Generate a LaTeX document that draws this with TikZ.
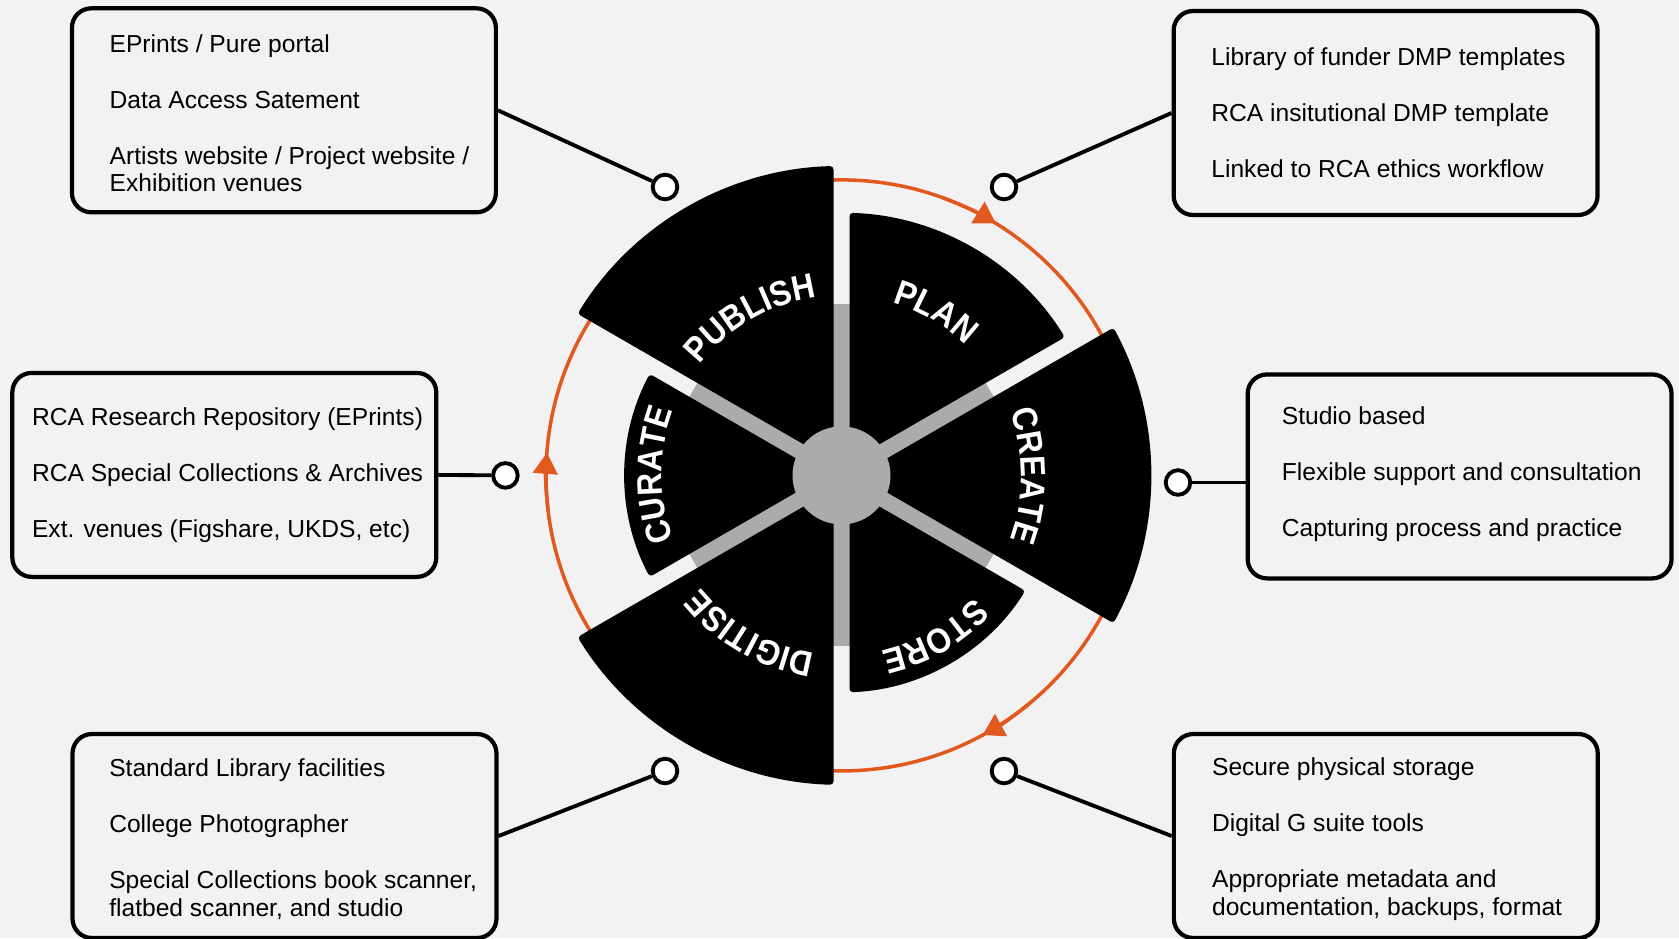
\documentclass[tikz,border=0pt]{standalone}
\usepackage{fontspec}
\setmainfont{Liberation Sans}
\newfontfamily\wheelfam[FakeStretch=0.9]{Liberation Sans}
\usetikzlibrary{positioning,arrows.meta,decorations.text,calc}

\definecolor{paper}{HTML}{F2F2F2}
\definecolor{cycleorange}{HTML}{E2591F}
\definecolor{hubgray}{HTML}{ABABAB}

\newcommand{\wheelfont}{\wheelfam\fontsize{20}{20}\selectfont\bfseries}

\tikzset{
  infobox/.style={draw, line width=2.4pt, rounded corners=11pt, minimum width=8.48cm, minimum height=4.08cm, inner sep=0pt},
  infotext/.style={align=left, inner sep=0pt, font={\fontsize{14}{15.8}\selectfont}},
  stud/.style={circle, draw, line width=2.2pt, fill=white, minimum size=14pt, inner sep=0pt},
  link/.style={line width=2.2pt},
  lifering/.style={cycleorange, line width=2pt},
  spoke/.style={hubgray, line width=10pt}
}

\begin{document}
\begin{tikzpicture}[x=0.02cm, y=0.02cm]

% page and background
\useasboundingbox (0,0) rectangle (1679,-938);
\fill[paper] (0,0) rectangle (1679,-938);

\coordinate (hub) at (841.5,-475.4);

% orange cycle with arrow heads
\draw[lifering] (hub) circle (295.5);
\draw[lifering, -{Triangle[length=12pt, width=14pt]}] ($(hub)+(70:295.5)$) arc[start angle=70, end angle=58.5, radius=295.5];
\draw[lifering, -{Triangle[length=12pt, width=14pt]}] ($(hub)+(-50:295.5)$) arc[start angle=-50, end angle=-61.5, radius=295.5];
\draw[lifering, -{Triangle[length=12pt, width=14pt]}] ($(hub)+(187:295.5)$) arc[start angle=187, end angle=175.6, radius=295.5];

% grey spokes
\foreach \a in {30,90,...,330}
  \draw[spoke] (hub) -- ($(hub)+(\a:171)$);

% black sectors
\foreach \a/\r in {30/262.7, -30/309.5, -90/217, -150/309.5, 150/217, 90/309.5} {
  \pgfmathsetmacro\da{asin(8/\r)}
  \fill[rounded corners=2pt] ($(hub)+({\a+30}:16)$) -- ($(hub)+({\a+\da}:\r)$)
    arc[start angle=\a+\da, end angle=\a+60-\da, radius=\r] -- cycle;
}

% hub
\fill[hubgray] (hub) circle (49);

% sector labels
\foreach \m/\word in {60/PLAN, 0/CREATE, -60/STORE, -120/DIGITISE, 180/CURATE, 120/PUBLISH}
  \path[decorate, decoration={text along path, text align=center,
      text/.expanded={|\noexpand\wheelfont\noexpand\color{white}|\word}}]
    ($(hub)+({\m+40}:180)$) arc[start angle=\m+40, end angle=\m-40, radius=180];

% studs
\node[stud] (tlstud) at (665,-187) {};
\node[stud] (trstud) at (1004,-187) {};
\node[stud] (lstud) at (505.4,-475.4) {};
\node[stud] (rstud) at (1178,-482.5) {};
\node[stud] (blstud) at (665,-771) {};
\node[stud] (brstud) at (1004,-771) {};

% boxes
\node[infobox] (tl) at (283.9,-110.3) {};
\node[infotext, right=0.79cm of tl.west, yshift=-1.7pt] (tltext) {EPrints / Pure portal\\[16pt]
  Data Access Satement\\[16pt]
  Artists website / Project website /\\ Exhibition venues};

\node[infobox] (tr) at (1385.6,-113) {};
\node[infotext, right=0.79cm of tr.west] (trtext) {Library of funder DMP templates\\[16pt]
  RCA insitutional DMP template\\[16pt]
  Linked to RCA ethics workflow};

\node[infobox] (l) at (224.3,-474.9) {};
\node[infotext, right=0.43cm of l.west] (ltext) {RCA Research Repository (EPrints)\\[16pt]
  RCA Special Collections \& Archives\\[16pt]
  Ext. venues (Figshare, UKDS, etc)};

\node[infobox] (r) at (1459.6,-476.4) {};
\node[infotext, right=0.72cm of r.west, yshift=1.2pt] (rtext) {Studio based\\[16pt]
  Flexible support and consultation\\[16pt]
  Capturing process and practice};

\node[infobox] (bl) at (284.5,-836) {};
\node[infotext, right=0.77cm of bl.west, yshift=-1.7pt] (bltext) {Standard Library facilities\\[16pt]
  College Photographer\\[16pt]
  Special Collections book scanner,\\ flatbed scanner, and studio};

\node[infobox] (br) at (1385.8,-836) {};
\node[infotext, right=0.8cm of br.west, yshift=-1.7pt] (brtext) {Secure physical storage\\[16pt]
  Digital G suite tools\\[16pt]
  Appropriate metadata and\\ documentation, backups, format};

% connectors
\draw[link] (tlstud) -- (tl.east);
\draw[link] (trstud) -- (tr.west);
\draw[link] (lstud) -- (l.east);
\draw[link] (rstud) -- (rstud -| r.west);
\draw[link] (blstud) -- (bl.east);
\draw[link] (brstud) -- (br.west);

\end{tikzpicture}
\end{document}
